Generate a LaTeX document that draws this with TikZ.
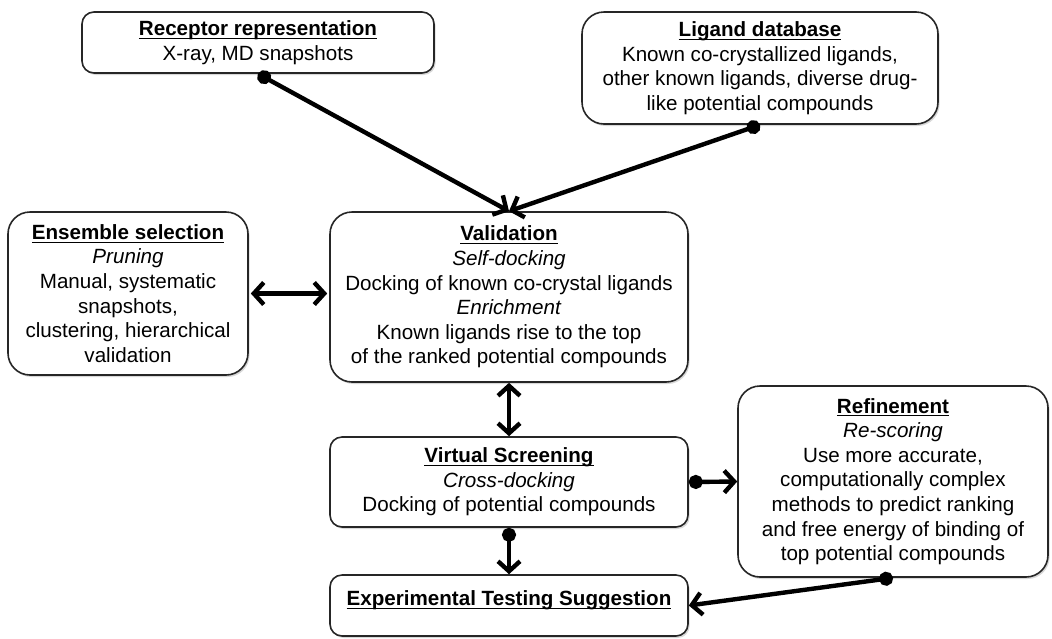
\documentclass[tikz,border=0pt]{standalone}
\usepackage{fontspec}
\setmainfont{Liberation Sans}
\usetikzlibrary{arrows.meta,shadows}

% bold title with a thin rule close under the baseline
\newcommand{\boxtitle}[1]{\setbox0\hbox{\textbf{#1}}%
    \rlap{\smash{\raisebox{-1.7pt}{\rule{\wd0}{0.6pt}}}}\box0}

\begin{document}
\begin{tikzpicture}[x=0.5pt, y=-0.5pt,
    box/.style={draw=black!85, line width=0.8pt, fill=white, rounded corners=6pt,
        align=center, inner sep=0pt,
        font=\fontsize{10.3}{12.3}\selectfont,
        drop shadow={shadow xshift=0.8pt, shadow yshift=-1pt, opacity=0.3}},
    bigbox/.style={box, rounded corners=11pt},
    conn/.style={line width=2.2pt, -{Straight Barb[length=5pt,width=11pt]}},
    dotconn/.style={line width=2.2pt, {Circle[length=7pt]}-{Straight Barb[length=5pt,width=11pt]}},
    both/.style={line width=2.2pt, {Straight Barb[length=5pt,width=11pt]}-{Straight Barb[length=5pt,width=11pt]}}]

    \useasboundingbox[fill=white] (0,0) rectangle (1052,638);

    % inputs
    \node[box, minimum width=176pt, minimum height=30.5pt] (recep) at (258,42.5)
        {\boxtitle{Receptor representation}\\ X-ray, MD snapshots};
    \node[bigbox, minimum width=178pt, minimum height=56pt] (ligdb) at (760,68)
        {\boxtitle{Ligand database}\\ Known co-crystallized ligands,\\
         other known ligands, diverse drug-\\ like potential compounds};

    % middle row
    \node[bigbox, minimum width=120pt, minimum height=81.5pt] (ensem) at (128,293.5)
        {\boxtitle{Ensemble selection}\\ \textit{Pruning}\\ Manual, systematic\\
         snapshots,\\ clustering, hierarchical\\ validation};
    \node[bigbox, minimum width=179pt, minimum height=85pt] (valid) at (509,297)
        {\boxtitle{Validation}\\ \textit{Self-docking}\\ Docking of known co-crystal ligands\\
         \textit{Enrichment}\\ Known ligands rise to the top\\ of the ranked potential compounds};

    % screening and after
    \node[box, minimum width=179pt, minimum height=45pt] (vscreen) at (509,482)
        {\boxtitle{Virtual Screening}\\ \textit{Cross-docking}\\ Docking of potential compounds};
    \node[bigbox, minimum width=155pt, minimum height=95.5pt] (refine) at (893,481.5)
        {\boxtitle{Refinement}\\ \textit{Re-scoring}\\ Use more accurate,\\
         computationally complex\\ methods to predict ranking\\
         and free energy of binding of\\ top potential compounds};
    \node[box, minimum width=179pt, minimum height=30.5pt, text depth=7.5pt] (exptest) at (509,605.5)
        {\boxtitle{Experimental Testing Suggestion}};

    % connectors
    \draw[dotconn] (recep.south) -- (valid.north);
    \draw[dotconn] (ligdb.south) -- (valid.north);
    \draw[both, shorten <=1pt, shorten >=1pt] (ensem.east) -- (ensem.east -| valid.west);
    \draw[both] (valid.south) -- (vscreen.north);
    \draw[dotconn] (vscreen.south) -- (exptest.north);
    \draw[dotconn] (vscreen.east) -- (refine.west);
    \draw[dotconn] (refine.south) -- (exptest.east);
\end{tikzpicture}
\end{document}
